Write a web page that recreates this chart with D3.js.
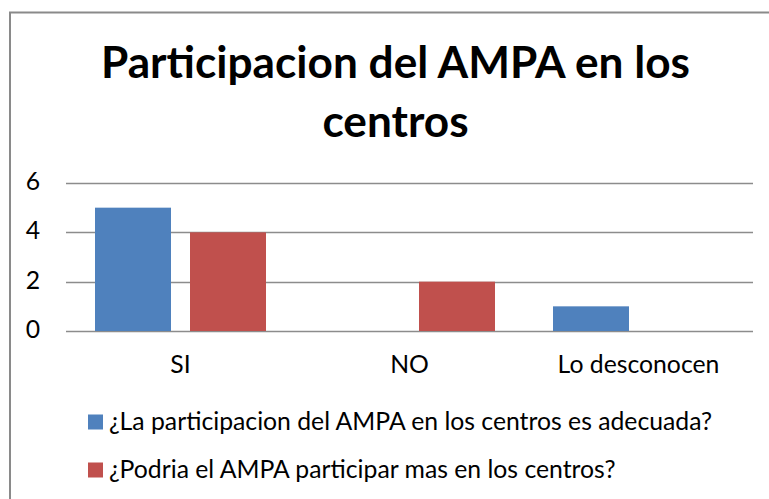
<!DOCTYPE html>
<html>
<head>
<meta charset="utf-8">
<script src="https://cdn.jsdelivr.net/npm/d3@7"></script>
<style>
  html, body { margin: 0; padding: 0; background: #fff; overflow: hidden; }
  svg { display: block; }
</style>
</head>
<body>
<script>
const categories = ["SI", "NO", "Lo desconocen"];
const seriesNames = [
  "¿La participacion del AMPA en los centros es adecuada?",
  "¿Podria el AMPA participar mas en los centros?"
];
const adecuadaValues = [5, 0, 1];
const participarMasValues = [4, 2, 0];
const yTickValues = [0, 2, 4, 6];
const titleLines = ["Participacion del AMPA en los", "centros"];
const seriesColors = ["#4F81BD", "#C0504D"];

const W = 769, H = 499;
const FONT = "Lato, 'Open Sans', 'DejaVu Sans', sans-serif";

const svg = d3.select("body").append("svg")
  .attr("width", W).attr("height", H);

// chart border (extends beyond right/bottom edges like the reference crop)
svg.append("rect")
  .attr("x", 10).attr("y", 12.5)
  .attr("width", 900).attr("height", 700)
  .attr("fill", "none")
  .attr("stroke", "#8a8a8a")
  .attr("stroke-width", 2);

const plot = { left: 66, right: 753, top: 183, bottom: 331 };

const x0 = d3.scaleBand().domain(categories)
  .range([plot.left, plot.right]).paddingInner(0).paddingOuter(0);
const inner = 29;
const x1 = d3.scaleBand().domain(d3.range(seriesNames.length))
  .range([inner, x0.bandwidth() - inner]).paddingInner(0.2).paddingOuter(0);
const y = d3.scaleLinear().domain([0, 6]).range([plot.bottom, plot.top]);

// helper to fit font size to target width
function fit(sel, target, base) {
  sel.attr("font-size", base);
  const w = sel.node().getComputedTextLength();
  const size = base * target / w;
  sel.attr("font-size", size);
  return size;
}

// gridlines
svg.append("g").selectAll("line").data(yTickValues).join("line")
  .attr("x1", plot.left).attr("x2", plot.right)
  .attr("y1", d => Math.round(y(d)) + 0.5).attr("y2", d => Math.round(y(d)) + 0.5)
  .attr("stroke", "#8c8c8c").attr("stroke-width", 1.5);

// bars
const seriesData = [adecuadaValues, participarMasValues];
const groups = svg.append("g").selectAll("g").data(categories).join("g")
  .attr("transform", c => `translate(${x0(c)},0)`);
groups.selectAll("rect")
  .data((c, ci) => seriesData.map((vals, si) => ({ si, v: vals[ci] })))
  .join("rect")
  .attr("x", d => x1(d.si))
  .attr("width", x1.bandwidth())
  .attr("y", d => y(d.v))
  .attr("height", d => y(0) - y(d.v))
  .attr("fill", d => seriesColors[d.si]);

// measure common label font size from longest legend entry
const probe = svg.append("text").attr("font-family", FONT).text(seriesNames[0]);
const labelSize = fit(probe, 603, 22);
probe.remove();

// y tick labels
svg.append("g").selectAll("text").data(yTickValues).join("text")
  .attr("x", 40).attr("y", d => y(d) + 7)
  .attr("text-anchor", "end")
  .attr("font-family", FONT).attr("font-size", labelSize)
  .attr("fill", "#000")
  .text(d => d);

// category labels
svg.append("g").selectAll("text").data(categories).join("text")
  .attr("x", c => x0(c) + x0.bandwidth() / 2).attr("y", 373)
  .attr("text-anchor", "middle")
  .attr("font-family", FONT).attr("font-size", labelSize)
  .attr("fill", "#000")
  .text(c => c);

// title
const t1 = svg.append("text")
  .attr("x", 395.5).attr("y", 78).attr("text-anchor", "middle")
  .attr("font-family", FONT).attr("font-weight", "bold").attr("fill", "#000")
  .text(titleLines[0]);
const titleSize = fit(t1, 589, 46);
svg.append("text")
  .attr("x", 395.5).attr("y", 137).attr("text-anchor", "middle")
  .attr("font-family", FONT).attr("font-weight", "bold").attr("fill", "#000")
  .attr("font-size", titleSize)
  .text(titleLines[1]);

// legend
const legendY = [422, 470];
const legend = svg.append("g").selectAll("g").data(seriesNames).join("g");
legend.append("rect")
  .attr("x", 88).attr("y", (d, i) => legendY[i] - 7.5)
  .attr("width", 15).attr("height", 15)
  .attr("fill", (d, i) => seriesColors[i]);
legend.append("text")
  .attr("x", 109).attr("y", (d, i) => legendY[i] + 8)
  .attr("font-family", FONT).attr("font-size", labelSize)
  .attr("fill", "#000")
  .text(d => d);
</script>
</body>
</html>
